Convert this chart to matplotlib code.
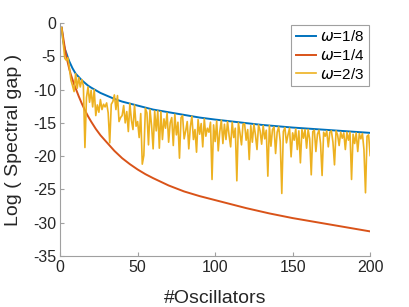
import matplotlib

matplotlib.use("Agg")
import matplotlib.pyplot as plt
import numpy as np

plt.rcParams["font.family"] = ["Liberation Sans", "DejaVu Sans"]
plt.rcParams["axes.unicode_minus"] = False
plt.rcParams["mathtext.fontset"] = "dejavusans"

# smooth curves, read at sample points
x_w18 = [1, 2, 3, 4, 5, 6, 7, 8, 9, 10, 12, 14, 16, 18, 20, 23, 26, 30, 35,
         40, 45, 50, 60, 70, 80, 90, 100, 115, 130, 150, 175, 200]
y_w18 = [-0.7, -2.8, -3.9, -4.5, -5.2, -5.8, -6.3, -6.8, -7.2, -7.6, -8.1,
         -8.6, -9.0, -9.4, -9.7, -10.1, -10.5, -10.9, -11.4, -11.8, -12.1,
         -12.4, -13.0, -13.4, -13.8, -14.2, -14.5, -14.9, -15.3, -15.7,
         -16.1, -16.5]

x_w14 = [1, 2, 3, 4, 5, 6, 7, 8, 9, 10, 12, 14, 16, 18, 20, 23, 26, 30, 35,
         40, 45, 50, 55, 60, 70, 80, 90, 100, 110, 120, 135, 150, 165, 180,
         200]
y_w14 = [-0.7, -2.2, -3.7, -5.0, -6.0, -7.0, -7.8, -8.5, -9.2, -9.8, -11.0,
         -12.1, -13.1, -14.0, -14.8, -15.9, -16.85, -17.9, -19.2, -20.3,
         -21.2, -22.0, -22.7, -23.3, -24.4, -25.3, -26.0, -26.6, -27.2,
         -27.8, -28.6, -29.3, -29.9, -30.5, -31.3]

# noisy curve, one value per oscillator count 1..200
y_w23 = [
    -0.7, -3.0, -5.3, -5.6, -5.2, -6.8, -8.6, -9.4, -10.3, -7.6,
    -9.8, -8.2, -9.6, -8.5, -9.4, -18.7, -11.2, -9.6, -11.9, -10.1,
    -12.6, -10.0, -13.9, -12.3, -13.4, -11.5, -13.0, -12.2, -12.6, -12.0,
    -13.5, -18.0, -12.2, -11.8, -10.8, -13.0, -10.9, -14.8, -14.2, -13.9,
    -12.4, -15.0, -13.3, -16.3, -12.1, -14.6, -16.0, -12.3, -15.5, -14.8,
    -17.2, -13.6, -21.2, -19.9, -12.8, -13.5, -18.3, -13.0, -15.4, -18.9,
    -13.2, -16.2, -13.2, -18.8, -13.3, -17.5, -14.4, -15.8, -13.5, -17.9,
    -15.0, -14.2, -18.4, -13.7, -16.8, -14.9, -20.3, -14.2, -13.9, -17.4,
    -16.2, -14.8, -18.9, -15.6, -14.0, -17.5, -16.0, -19.4, -14.5, -16.7,
    -15.1, -18.6, -14.4, -17.0, -15.8, -16.4, -14.9, -23.5, -15.3, -17.8,
    -14.7, -19.2, -16.3, -14.6, -18.1, -15.2, -17.5, -14.8, -16.9, -18.6,
    -14.9, -17.2, -15.8, -23.7, -15.0, -16.5, -18.3, -15.2, -15.1, -17.6,
    -16.0, -20.5, -15.4, -17.9, -15.2, -16.8, -19.0, -15.3, -16.2, -18.2,
    -15.4, -17.4, -16.1, -23.0, -15.4, -18.5, -16.0, -15.6, -19.6, -16.4,
    -15.6, -17.8, -25.6, -16.3, -15.7, -18.0, -16.8, -15.8, -20.1, -16.5,
    -17.6, -15.9, -19.0, -16.2, -21.0, -16.0, -17.3, -16.0, -18.8, -16.0,
    -17.4, -22.8, -16.3, -16.1, -19.3, -16.7, -16.1, -18.1, -22.9, -16.4,
    -17.0, -16.2, -18.6, -16.4, -16.2, -17.9, -21.3, -16.2, -16.8, -18.4,
    -16.4, -17.3, -16.5, -19.0, -16.4, -17.6, -16.4, -23.5, -16.7, -18.1,
    -16.5, -19.3, -16.6, -17.4, -16.6, -19.0, -25.5, -17.0, -16.8, -19.9,
]
x_w23 = np.arange(1, len(y_w23) + 1)

x_ticks = [0, 50, 100, 150, 200]
y_ticks = [0, -5, -10, -15, -20, -25, -30, -35]

fig = plt.figure(figsize=(4.09, 3.07), dpi=100)
ax = fig.add_axes([0.147, 0.166, 0.758, 0.759])

ax.plot(x_w18, y_w18, color="#0072BD", lw=1.4, label=r"$\omega$=1/8")
ax.plot(x_w14, y_w14, color="#D95319", lw=1.4, label=r"$\omega$=1/4")
ax.plot(x_w23, y_w23, color="#EDB120", lw=1.2, label=r"$\omega$=2/3")

ax.set_xlim(0, 200)
ax.set_ylim(-35, 0)
ax.set_xticks(x_ticks)
ax.set_yticks(y_ticks)
ax.set_yticklabels([str(v) for v in y_ticks])

for side in ("top", "right"):
    ax.spines[side].set_visible(False)
for side in ("left", "bottom"):
    ax.spines[side].set_color("#a0a0a0")
    ax.spines[side].set_linewidth(0.8)
ax.tick_params(direction="in", length=3, color="#a0a0a0",
               labelsize=11.5, labelcolor="#262626", pad=3)

ax.set_xlabel("#Oscillators", fontsize=14, color="#262626", labelpad=11)
ax.set_ylabel("Log ( Spectral gap )", fontsize=14, color="#262626", labelpad=8)

leg = ax.legend(loc="upper right", fontsize=11, handlelength=1.3,
                handletextpad=0.25, borderpad=0.3, labelspacing=0.25,
                fancybox=False, framealpha=1, borderaxespad=0.1)
leg.get_frame().set_edgecolor("#a0a0a0")
leg.get_frame().set_linewidth(0.8)

fig.savefig("out.png", dpi=100)
